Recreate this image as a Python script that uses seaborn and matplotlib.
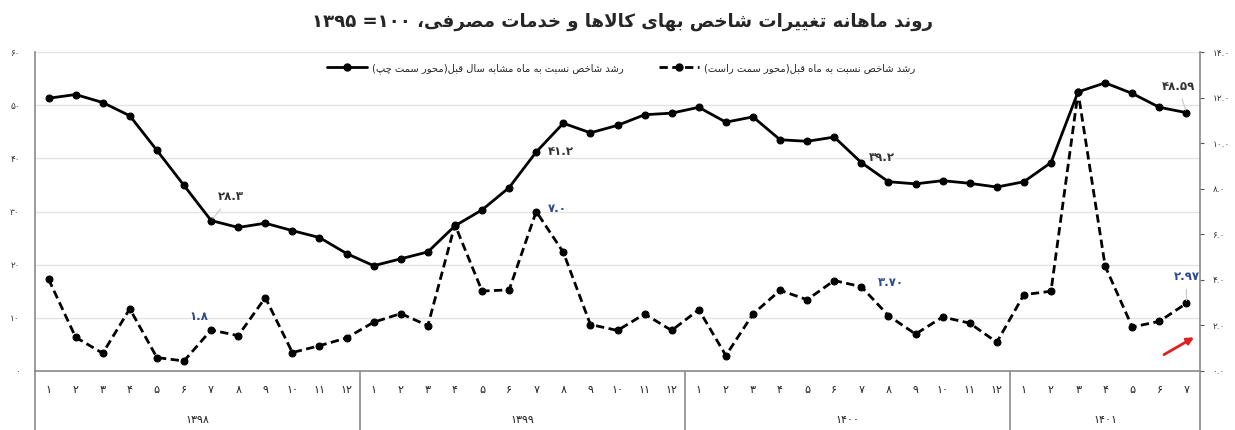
import re
import matplotlib
matplotlib.use('Agg')
import matplotlib.pyplot as plt
import matplotlib.transforms as mtransforms
from matplotlib.lines import Line2D
import seaborn as sns
import pandas as pd

# ---- data ----
years = ['۱۳۹۸', '۱۳۹۹', '۱۴۰۰', '۱۴۰۱']
months_in_year = [12, 12, 12, 7]
month_names = ['۱', '۲', '۳', '۴', '۵', '۶', '۷', '۸', '۹', '۱۰', '۱۱', '۱۲']

# year-on-year growth (left axis)
yoy = [51.3, 52.0, 50.5, 48.0, 41.5, 34.9, 28.3, 27.0, 27.8, 26.4, 25.1, 22.1,
       19.8, 21.1, 22.4, 27.3, 30.3, 34.5, 41.2, 46.6, 44.8, 46.2, 48.2, 48.5,
       49.6, 46.8, 47.8, 43.5, 43.2, 44.0, 39.2, 35.6, 35.2, 35.8, 35.3, 34.6,
       35.6, 39.2, 52.5, 54.2, 52.2, 49.6, 48.59]

# month-on-month growth (right axis)
mom = [4.03, 1.48, 0.78, 2.73, 0.59, 0.44, 1.8, 1.55, 3.22, 0.81, 1.11, 1.45,
       2.14, 2.52, 1.99, 6.42, 3.51, 3.56, 7.0, 5.21, 2.04, 1.78, 2.50, 1.78,
       2.69, 0.68, 2.50, 3.54, 3.13, 3.97, 3.70, 2.43, 1.62, 2.37, 2.10, 1.26,
       3.35, 3.50, 12.24, 4.60, 1.93, 2.18, 2.97]

yoy_points = [7, 19, 31, 43]
yoy_texts = ['۲۸.۳', '۴۱.۲', '۳۹.۲', '۴۸.۵۹']
mom_points = [7, 19, 31, 43]
mom_texts = ['۱.۸', '۷.۰', '۳.۷۰', '۲.۹۷']

left_ticks = [0, 10, 20, 30, 40, 50, 60]
left_tick_labels = ['۰', '۱۰', '۲۰', '۳۰', '۴۰', '۵۰', '۶۰']
right_ticks = [0, 2, 4, 6, 8, 10, 12, 14]
right_tick_labels = ['۰.۰', '۲.۰', '۴.۰', '۶.۰', '۸.۰', '۱۰.۰', '۱۲.۰', '۱۴.۰']

title = 'روند ماهانه تغییرات شاخص بهای کالاها و خدمات مصرفی، ۱۰۰= ۱۳۹۵'
legend_yoy = 'رشد شاخص نسبت به ماه مشابه سال قبل(محور سمت چپ)'
legend_mom = 'رشد شاخص نسبت به ماه قبل(محور سمت راست)'

# ---- minimal Persian shaping (matplotlib has no bidi / joining) ----
FORMS = {
    'ا': (0xFE8D, 0xFE8E), 'د': (0xFEA9, 0xFEAA), 'ذ': (0xFEAB, 0xFEAC),
    'ر': (0xFEAD, 0xFEAE), 'ز': (0xFEAF, 0xFEB0), 'ژ': (0xFB8A, 0xFB8B),
    'و': (0xFEED, 0xFEEE),
    'ب': (0xFE8F, 0xFE90, 0xFE91, 0xFE92), 'پ': (0xFB56, 0xFB57, 0xFB58, 0xFB59),
    'ت': (0xFE95, 0xFE96, 0xFE97, 0xFE98), 'ث': (0xFE99, 0xFE9A, 0xFE9B, 0xFE9C),
    'ج': (0xFE9D, 0xFE9E, 0xFE9F, 0xFEA0), 'چ': (0xFB7A, 0xFB7B, 0xFB7C, 0xFB7D),
    'ح': (0xFEA1, 0xFEA2, 0xFEA3, 0xFEA4), 'خ': (0xFEA5, 0xFEA6, 0xFEA7, 0xFEA8),
    'س': (0xFEB1, 0xFEB2, 0xFEB3, 0xFEB4), 'ش': (0xFEB5, 0xFEB6, 0xFEB7, 0xFEB8),
    'ص': (0xFEB9, 0xFEBA, 0xFEBB, 0xFEBC), 'ض': (0xFEBD, 0xFEBE, 0xFEBF, 0xFEC0),
    'ط': (0xFEC1, 0xFEC2, 0xFEC3, 0xFEC4), 'ظ': (0xFEC5, 0xFEC6, 0xFEC7, 0xFEC8),
    'ع': (0xFEC9, 0xFECA, 0xFECB, 0xFECC), 'غ': (0xFECD, 0xFECE, 0xFECF, 0xFED0),
    'ف': (0xFED1, 0xFED2, 0xFED3, 0xFED4), 'ق': (0xFED5, 0xFED6, 0xFED7, 0xFED8),
    'ک': (0xFB8E, 0xFB8F, 0xFB90, 0xFB91), 'گ': (0xFB92, 0xFB93, 0xFB94, 0xFB95),
    'ل': (0xFEDD, 0xFEDE, 0xFEDF, 0xFEE0), 'م': (0xFEE1, 0xFEE2, 0xFEE3, 0xFEE4),
    'ن': (0xFEE5, 0xFEE6, 0xFEE7, 0xFEE8), 'ه': (0xFEE9, 0xFEEA, 0xFEEB, 0xFEEC),
    'ی': (0xFBFC, 0xFBFD, 0xFBFE, 0xFBFF),
}


def rtl(text):
    out = []
    i, n = 0, len(text)
    while i < n:
        c = text[i]
        prev = text[i - 1] if i > 0 else ''
        nxt = text[i + 1] if i + 1 < n else ''
        from_prev = c in FORMS and len(FORMS.get(prev, ())) == 4
        if c == 'ل' and nxt == 'ا':
            out.append('\uFEFC' if from_prev else '\uFEFB')
            i += 2
            continue
        if c in FORMS:
            f = FORMS[c]
            to_next = len(f) == 4 and nxt in FORMS
            if from_prev and to_next:
                g = f[3]
            elif from_prev:
                g = f[1]
            elif to_next:
                g = f[2]
            else:
                g = f[0]
            out.append(chr(g))
        else:
            out.append(c)
        i += 1
    runs = re.findall(r'[0-9۰-۹.]+|.', ''.join(out))
    mirror = {'(': ')', ')': '('}
    return ''.join(mirror.get(r, r) for r in reversed(runs))


# ---- build frame ----
idx = list(range(1, len(yoy) + 1))
df = pd.DataFrame({'idx': idx, 'yoy': yoy, 'mom': mom})

sns.set_style('white')
plt.rcParams['font.family'] = ['DejaVu Sans']

fig = plt.figure(figsize=(12.35, 4.30), dpi=100)
ax = fig.add_axes([35 / 1235, 1 - 371 / 430, 1165 / 1235, 319 / 430])
ax2 = ax.twinx()

sns.lineplot(data=df, x='idx', y='yoy', ax=ax, color='black', linewidth=2,
             marker='o', markersize=5, markeredgecolor='black', zorder=3)
sns.lineplot(data=df, x='idx', y='mom', ax=ax2, color='black', linewidth=2,
             marker='o', markersize=5, markeredgecolor='black', zorder=3)
ax2.lines[0].set_dashes([3.0, 1.6])

ax.set_xlim(0.5, len(idx) + 0.5)
ax.set_ylim(0, 60)
ax2.set_ylim(0, 14)
ax.set_xlabel('')
ax.set_ylabel('')
ax2.set_ylabel('')

# y axes
ax.set_yticks(left_ticks)
ax.set_yticklabels(left_tick_labels)
ax.tick_params(axis='y', length=0, pad=11, labelsize=6.5, colors='#333333')
ax2.set_yticks(right_ticks)
ax2.set_yticklabels(right_tick_labels)
ax2.tick_params(axis='y', right=True, length=3, width=0.8, pad=6, labelsize=6.5,
                color='#555555', labelcolor='#333333')
ax.yaxis.grid(True, color='#e4e4e4', linewidth=1)
ax.set_axisbelow(True)

# two-level category axis
month_labels = [m for n in months_in_year for m in month_names[:n]]
ax.set_xticks(idx)
ax.set_xticklabels(month_labels)
ax.tick_params(axis='x', which='major', length=0, pad=10, labelsize=8, colors='#222222')
bounds = [0.5]
for n in months_in_year:
    bounds.append(bounds[-1] + n)
ax.set_xticks(bounds, minor=True)
ax.tick_params(axis='x', which='minor', bottom=True, length=43, width=1.2, color='#8a8a8a')

trans = mtransforms.blended_transform_factory(ax.transData, ax.transAxes)
start = 1
for yr, n in zip(years, months_in_year):
    ax.text(start + (n - 1) / 2, -0.155, yr, transform=trans, ha='center',
            va='center', fontsize=8, color='#222222')
    start += n

for a in (ax, ax2):
    for s in a.spines.values():
        s.set_visible(False)
ax.spines['left'].set_visible(True)
ax.spines['bottom'].set_visible(True)
ax2.spines['right'].set_visible(True)
for s in (ax.spines['left'], ax.spines['bottom'], ax2.spines['right']):
    s.set_color('#8a8a8a')
    s.set_linewidth(1.2)

# data labels
yoy_offsets = [(14, 17), (18, 0), (15, 4), (-6, 19)]
for p, t, off in zip(yoy_points, yoy_texts, yoy_offsets):
    lead = dict(arrowstyle='-', color='#c8c8c8', lw=0.8) if off[1] > 10 else None
    ax.annotate(t, xy=(p, yoy[p - 1]), xytext=off, textcoords='offset points',
                ha='center', va='center', fontsize=8.5, fontweight='bold',
                color='#333333', arrowprops=lead)

mom_offsets = [(-9, 10), (15, 2), (21, 3), (0, 19)]
for p, t, off in zip(mom_points, mom_texts, mom_offsets):
    lead = dict(arrowstyle='-', color='#c8c8c8', lw=0.8) if off[1] > 15 else None
    ax2.annotate(t, xy=(p, mom[p - 1]), xytext=off, textcoords='offset points',
                 ha='center', va='center', fontsize=8.5, fontweight='bold',
                 color='#2f4a8a', arrowprops=lead)

# red arrow at the bottom right
ax.annotate('', xy=(0.997, 0.11), xytext=(0.967, 0.047), xycoords='axes fraction',
            arrowprops=dict(arrowstyle='-|>', color='#e02020', lw=2, mutation_scale=10))

# legend
handles = [
    Line2D([], [], color='black', lw=2, marker='o', markersize=5),
    Line2D([], [], color='black', lw=2, marker='o', markersize=5, dashes=[3.0, 1.6]),
]
ax2.legend(handles, [rtl(legend_yoy), rtl(legend_mom)], loc='upper center',
           bbox_to_anchor=(0.503, 0.995), ncol=2, frameon=False, fontsize=7.2,
           handlelength=4, handletextpad=0.5, columnspacing=3.5)

fig.text(0.504, 1 - 22 / 430, rtl(title), ha='center', va='center',
         fontsize=13.1, fontweight='bold')

fig.savefig('out.png', dpi=100)
